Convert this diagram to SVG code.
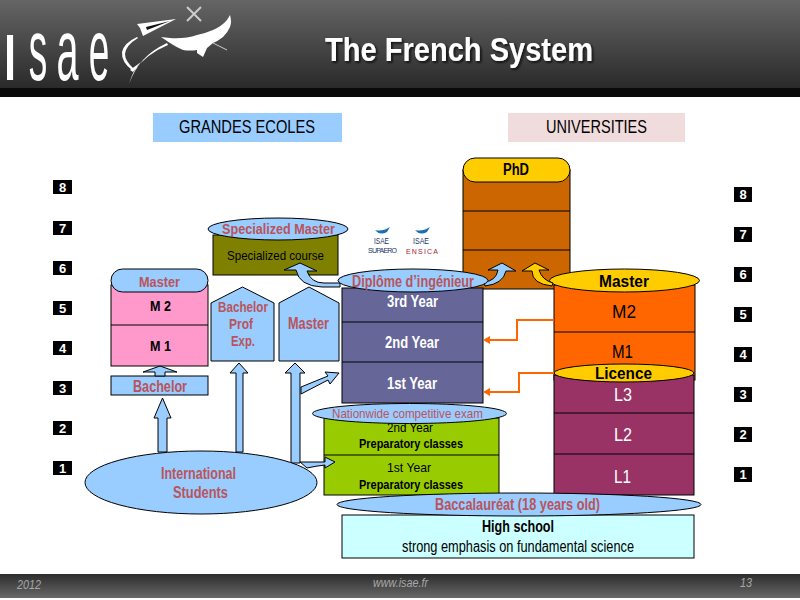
<svg xmlns="http://www.w3.org/2000/svg" width="800" height="600" viewBox="0 0 800 600">
<style>
text{font-family:"Liberation Sans",Arial,sans-serif;text-anchor:middle;lengthAdjust:spacingAndGlyphs}
.b{font-weight:bold}
.red{fill:#b9545a;font-weight:bold}
.k{fill:#000}
.w{fill:#fff}
.s{stroke:#000;stroke-width:1}
.blue{fill:#99ccff;stroke:#000;stroke-width:1}
.yel{fill:#ffcc00;stroke:#000;stroke-width:1}
.num{fill:#000}
.numt{fill:#fff;font-size:13px;font-weight:bold}
.foot{fill:#a8a8a8;font-style:italic;font-size:12px}
.or{fill:none;stroke:#ff6600;stroke-width:2}
.orh{fill:#ff6600}
.logo{fill:#fff}
</style>
<defs>
<linearGradient id="hd" x1="0" y1="0" x2="0" y2="1"><stop offset="0" stop-color="#656565"/><stop offset="1" stop-color="#2a2a2a"/></linearGradient>
<linearGradient id="ft" x1="0" y1="0" x2="0" y2="1"><stop offset="0" stop-color="#2c2c2c"/><stop offset="1" stop-color="#686868"/></linearGradient>
<filter id="sh" x="-5%" y="-20%" width="110%" height="140%"><feDropShadow dx="1.500" dy="1.500" stdDeviation="0.800" flood-color="#111"/></filter>
</defs>
<rect width="800" height="600" fill="#fff"/>
<g id="header">
<rect width="800" height="88" fill="url(#hd)"/>
<rect y="88" width="800" height="9" fill="#0a0a0a"/>
<text class="logo" transform="translate(10,80)" font-size="65">I</text>
<text class="logo" transform="translate(38,80) scale(.42,1)" font-size="88">s</text>
<text class="logo" transform="translate(67.500,80) scale(.45,1)" font-size="88">a</text>
<text class="logo" transform="translate(99,80) scale(.42,1)" font-size="88">e</text>
<path d="M137 24L176 19L143 36L140 28Z" fill="#fff"/><path d="M146 27L170 21L147 30Z" fill="#111"/>
<path d="M187 7L201 21M201 7L187 21" stroke="#ccc" stroke-width="2" fill="none"/>
<path d="M161 37L170 38Q185 39 197 35Q206 33 213 30Q222 26 227 20L230 15Q232 22 230 27Q228 32 223 37Q218 41 213 43L207 48L203 57L197 53V50Q190 51 183 50Q176 47 170 43Z" fill="#fff"/>
<path d="M213 43L227 50" stroke="#ccc" stroke-width="1" fill="none"/>
<path d="M167 43Q152 50 143 60Q134 70 129 84Q133 70 141 62L130 70L133 72Q146 54 168 45Z M137 37Q124 43 122 52Q121 62 133 71L134 69Q125 61 125 54Q126 45 138 38Z" fill="#fff"/>
<text x="459" y="61" font-size="33" class="b w" textLength="268" lengthAdjust="spacingAndGlyphs" filter="url(#sh)">The French System</text>
</g>
<g id="footer">
<rect y="574" width="800" height="24" fill="url(#ft)"/>
<text class="foot" x="29" y="589" textLength="24" lengthAdjust="spacingAndGlyphs">2012</text>
<text class="foot" x="400.500" y="587" textLength="55" lengthAdjust="spacingAndGlyphs">www.isae.fr</text>
<text class="foot" x="746" y="587" textLength="12" lengthAdjust="spacingAndGlyphs">13</text>
</g>
<g id="grandes-ecoles"><rect x="153" y="113" width="189" height="29" fill="#99ccff"/><text x="247" y="133" font-size="18" class="k" textLength="136" lengthAdjust="spacingAndGlyphs">GRANDES ECOLES</text></g>
<g id="universities"><rect x="508" y="113" width="177" height="29" fill="#f0dcdc"/><text x="596.500" y="133" font-size="18" class="k" textLength="101" lengthAdjust="spacingAndGlyphs">UNIVERSITIES</text></g>
<g id="scale-left">
<rect class="num" x="53" y="180" width="19" height="14"/><text class="numt" x="62.500" y="192">8</text>
<rect class="num" x="53" y="221" width="19" height="14"/><text class="numt" x="62.500" y="233">7</text>
<rect class="num" x="53" y="261" width="19" height="14"/><text class="numt" x="62.500" y="273">6</text>
<rect class="num" x="53" y="301" width="19" height="14"/><text class="numt" x="62.500" y="313">5</text>
<rect class="num" x="53" y="341" width="19" height="14"/><text class="numt" x="62.500" y="353">4</text>
<rect class="num" x="53" y="381" width="19" height="14"/><text class="numt" x="62.500" y="393">3</text>
<rect class="num" x="53" y="421" width="19" height="14"/><text class="numt" x="62.500" y="433">2</text>
<rect class="num" x="53" y="461" width="19" height="14"/><text class="numt" x="62.500" y="473">1</text>
</g>
<g id="scale-right">
<rect class="num" x="734" y="187" width="18" height="15"/><text class="numt" x="743" y="199">8</text>
<rect class="num" x="734" y="227" width="18" height="15"/><text class="numt" x="743" y="239">7</text>
<rect class="num" x="734" y="267" width="18" height="15"/><text class="numt" x="743" y="279">6</text>
<rect class="num" x="734" y="307" width="18" height="15"/><text class="numt" x="743" y="319">5</text>
<rect class="num" x="734" y="347" width="18" height="15"/><text class="numt" x="743" y="359">4</text>
<rect class="num" x="734" y="387" width="18" height="15"/><text class="numt" x="743" y="399">3</text>
<rect class="num" x="734" y="427" width="18" height="15"/><text class="numt" x="743" y="439">2</text>
<rect class="num" x="734" y="467" width="18" height="15"/><text class="numt" x="743" y="479">1</text>
</g>
<g id="phd">
<rect class="s" x="463" y="170" width="107" height="119" fill="#cc6600"/>
<path class="s" d="M463 211H570M463 250H570"/>
<rect class="yel" x="463" y="158" width="107" height="24" rx="12"/>
<text x="516" y="175" font-size="16" class="b k" textLength="26" lengthAdjust="spacingAndGlyphs">PhD</text>
</g>
<g id="specialized">
<rect class="s" x="213" y="235" width="125" height="40" fill="#808000"/>
<ellipse class="blue" cx="278" cy="229" rx="70" ry="11"/>
<text class="red" x="278.500" y="234" font-size="15" textLength="113" lengthAdjust="spacingAndGlyphs">Specialized Master</text>
<text x="275.500" y="260" font-size="13" class="k" textLength="97" lengthAdjust="spacingAndGlyphs">Specialized course</text>
</g>
<g id="logos">
<path d="M375 230Q382 232 390 227L387 232Q380 236 375 230Z" fill="#1d6fb5"/>
<path d="M415 230Q422 232 430 227L427 232Q420 236 415 230Z" fill="#1d6fb5"/>
<text x="381.500" y="244" font-size="9" fill="#223366" textLength="15" lengthAdjust="spacingAndGlyphs">ISAE</text>
<text x="382.500" y="253" font-size="7" fill="#223366" textLength="29" lengthAdjust="spacing">SUPAERO</text>
<text x="421" y="244" font-size="9" fill="#223366" textLength="16" lengthAdjust="spacingAndGlyphs">ISAE</text>
<text x="422" y="254" font-size="7" fill="#aa2233" textLength="32" lengthAdjust="spacing">ENSICA</text>
</g>
<g id="master-left">
<rect class="s" x="111" y="285" width="97" height="81" fill="#ff99cc"/>
<path class="s" d="M111 325H208"/>
<rect class="blue" x="111" y="269" width="97" height="23" rx="11.500"/>
<text class="red" x="159.500" y="287" font-size="15" textLength="41" lengthAdjust="spacingAndGlyphs">Master</text>
<text class="b k" x="160.500" y="311" font-size="15" textLength="21" lengthAdjust="spacingAndGlyphs">M 2</text>
<text class="b k" x="160.500" y="351" font-size="15" textLength="21" lengthAdjust="spacingAndGlyphs">M 1</text>
</g>
<g id="bachelor">
<rect class="blue" x="111" y="376" width="97" height="19"/>
<text class="red" x="160" y="392" font-size="16" textLength="54" lengthAdjust="spacingAndGlyphs">Bachelor</text>
</g>
<g id="bachelor-prof">
<path class="blue" d="M211 361V303L242.500 287L274 303V361Z"/>
<text class="red" x="243" y="312" font-size="15" textLength="50" lengthAdjust="spacingAndGlyphs">Bachelor</text>
<text class="red" x="241" y="329" font-size="15" textLength="24" lengthAdjust="spacingAndGlyphs">Prof</text>
<text class="red" x="243" y="346" font-size="15" textLength="24" lengthAdjust="spacingAndGlyphs">Exp.</text>
</g>
<g id="master-mid">
<path class="blue" d="M279 361V303L309 287L339 303V361Z"/>
<text class="red" x="308.500" y="329" font-size="16" textLength="41" lengthAdjust="spacingAndGlyphs">Master</text>
</g>
<g id="engineer">
<rect class="s" x="342" y="288" width="141" height="115" fill="#666699"/>
<path class="s" d="M342 322H483M342 362H483"/>
<text class="b w" x="412.500" y="307" font-size="16" textLength="51" lengthAdjust="spacingAndGlyphs">3rd Year</text>
<text class="b w" x="412" y="348" font-size="16" textLength="54" lengthAdjust="spacingAndGlyphs">2nd Year</text>
<text class="b w" x="412" y="389" font-size="16" textLength="50" lengthAdjust="spacingAndGlyphs">1st Year</text>
</g>
<g id="prep">
<rect class="s" x="324" y="418" width="175" height="77" fill="#99cc00"/>
<path class="s" d="M324 455H499"/>
<text class="k" x="410" y="432" font-size="13" textLength="46" lengthAdjust="spacingAndGlyphs">2nd Year</text>
<text class="b k" x="411" y="448" font-size="13" textLength="104" lengthAdjust="spacingAndGlyphs">Preparatory classes</text>
<text class="k" x="409" y="472" font-size="13" textLength="44" lengthAdjust="spacingAndGlyphs">1st Year</text>
<text class="b k" x="411" y="489" font-size="13" textLength="104" lengthAdjust="spacingAndGlyphs">Preparatory classes</text>
</g>
<g id="exam">
<ellipse class="blue" cx="409.500" cy="413.500" rx="97" ry="10"/>
<text x="407.500" y="418" font-size="13" fill="#b9545a" textLength="151" lengthAdjust="spacingAndGlyphs">Nationwide competitive exam</text>
</g>
<g id="university-master">
<rect class="s" x="554" y="285" width="141" height="95" fill="#ff6600"/>
<path class="s" d="M554 332H695"/>
<ellipse class="yel" cx="624.500" cy="280.500" rx="75" ry="11.500"/>
<text class="b k" x="624" y="287" font-size="16" textLength="50" lengthAdjust="spacingAndGlyphs">Master</text>
<text class="k" x="624" y="318" font-size="19" textLength="24" lengthAdjust="spacingAndGlyphs">M2</text>
<text class="k" x="622.500" y="358" font-size="19" textLength="21" lengthAdjust="spacingAndGlyphs">M1</text>
</g>
<g id="university-licence">
<rect class="s" x="554" y="375" width="140" height="120" fill="#993366"/>
<path class="s" d="M554 413H694M554 454H694"/>
<ellipse class="yel" cx="624" cy="373" rx="70" ry="9"/>
<text class="b k" x="623.500" y="379" font-size="16" textLength="57" lengthAdjust="spacingAndGlyphs">Licence</text>
<text class="w" x="623" y="401" font-size="19" textLength="18" lengthAdjust="spacingAndGlyphs">L3</text>
<text class="w" x="623" y="441" font-size="19" textLength="18" lengthAdjust="spacingAndGlyphs">L2</text>
<text class="w" x="622.500" y="483" font-size="19" textLength="17" lengthAdjust="spacingAndGlyphs">L1</text>
</g>
<g id="connectors">
<path class="blue" d="M158 452V418H154L162.500 398L171 418H167V452Z"/>
<path class="blue" d="M155 376V372H143L160 366L177 372H165V376Z"/>
<path class="blue" d="M236 452V373H230L239 363L248 373H243V452Z"/>
<path class="blue" d="M291 463V373H285L295 363L305 373H300V463Z"/>
<path class="blue" d="M301 387L328 376L325 372L339 373L330 384L328 380L301 394Z"/>
<path class="blue" d="M300 462H325V457L335 462L325 468V465Q316 466 307 468Z"/>
<path class="blue" d="M340 283H324Q311 283 307 271H317L300 263L284 270H296Q299 286 322 287H340Z"/>
<path class="blue" d="M485 286Q503 284 506 271H516L502 263L488 270H498Q496 281 484 282Z"/>
<path class="yel" d="M552 286Q532 284 532 271H522L535 263L549 270H539Q542 280 553 283Z"/>
<path class="or" d="M554 320H517V340H488"/><path class="orh" d="M483 340L490 336V344Z"/>
<path class="or" d="M554 373H519V392H488"/><path class="orh" d="M483 392L490 388V396Z"/>
</g>
<g id="diplome">
<ellipse class="blue" cx="413" cy="280.500" rx="75" ry="11.500"/>
<text class="red" x="413" y="287" font-size="16" textLength="122" lengthAdjust="spacingAndGlyphs">Diplôme d’ingénieur</text>
</g>
<g id="international">
<ellipse class="blue" cx="201" cy="482.500" rx="116" ry="31.500"/>
<text class="red" x="198.500" y="479" font-size="16" textLength="75" lengthAdjust="spacingAndGlyphs">International</text>
<text class="red" x="200.500" y="498" font-size="16" textLength="55" lengthAdjust="spacingAndGlyphs">Students</text>
</g>
<g id="high-school">
<rect class="s" x="342" y="515" width="352" height="43" fill="#ccffff"/>
<text class="b k" x="518" y="532" font-size="16" textLength="72" lengthAdjust="spacingAndGlyphs">High school</text>
<text class="k" x="518" y="552" font-size="16" textLength="232" lengthAdjust="spacingAndGlyphs">strong emphasis on fundamental science</text>
</g>
<g id="baccalaureat">
<ellipse class="blue" cx="519" cy="504.500" rx="182" ry="11.500"/>
<text class="red" x="517.500" y="510" font-size="16" textLength="165" lengthAdjust="spacingAndGlyphs">Baccalauréat (18 years old)</text>
</g>
</svg>
